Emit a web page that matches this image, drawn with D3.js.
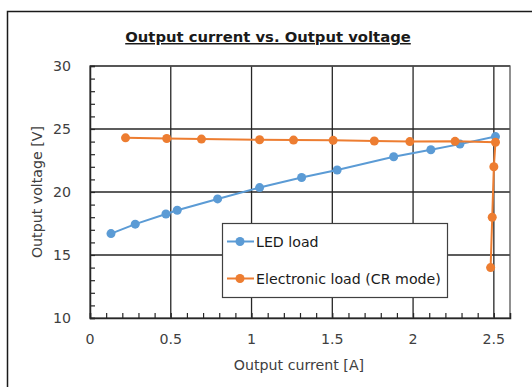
<!DOCTYPE html>
<html>
<head>
<meta charset="utf-8">
<script src="https://cdn.jsdelivr.net/npm/d3@7/dist/d3.min.js"></script>
<style>
  html, body { margin: 0; padding: 0; background: #fff; }
  svg { display: block; font-family: "DejaVu Sans", Verdana, sans-serif; }
</style>
</head>
<body>
<svg id="chart" width="532" height="387"></svg>
<script>
// LED load: output current [A] and output voltage [V]
const ledCurrent = [0.13, 0.28, 0.47, 0.54, 0.79, 1.05, 1.31, 1.53, 1.88, 2.11, 2.29, 2.51];
const ledVoltage = [16.7, 17.45, 18.25, 18.55, 19.45, 20.35, 21.15, 21.75, 22.8, 23.35, 23.8, 24.4];

// Electronic load in constant-resistance mode
const eloadCurrent = [0.22, 0.475, 0.69, 1.05, 1.26, 1.505, 1.76, 1.98, 2.26, 2.51, 2.50, 2.49, 2.48];
const eloadVoltage = [24.3, 24.25, 24.2, 24.15, 24.12, 24.1, 24.05, 24.0, 24.02, 23.95, 22.0, 18.0, 14.0];

const seriesNames = ["LED load", "Electronic load (CR mode)"];
const seriesColors = ["#5B9BD5", "#ED7D31"];

const xTicks = [0, 0.5, 1, 1.5, 2, 2.5];
const yTicks = [10, 15, 20, 25, 30];
const xMinorTicks = d3.range(0, 26).map(i => i / 10);
const yMinorTicks = d3.range(10, 31);

const titleText = "Output current vs. Output voltage";
const xTitle = "Output current [A]";
const yTitle = "Output voltage [V]";

const svg = d3.select("#chart");
const ink = "#404040";
const gridInk = "#262626";
const fs = 14.2;

// outer chart frame
svg.append("rect")
  .attr("x", 7.5).attr("y", 11.5)
  .attr("width", 540).attr("height", 400)
  .attr("fill", "#fff").attr("stroke", "#1a1a1a").attr("stroke-width", 1.5);

const plot = { left: 90, top: 66, right: 510, bottom: 318 };

const x = d3.scaleLinear().domain([0, 2.6]).range([plot.left, plot.right]);
const y = d3.scaleLinear().domain([10, 30]).range([plot.bottom, plot.top]);

// title
svg.append("text")
  .attr("x", 268).attr("y", 42)
  .attr("text-anchor", "middle")
  .attr("font-size", 14.8).attr("font-weight", "bold")
  .attr("fill", "#1a1a1a")
  .attr("text-decoration", "underline")
  .text(titleText);

// grid lines
const g = svg.append("g");
g.selectAll(".vgrid").data(xTicks.filter(d => d > 0)).join("line")
  .attr("x1", d => x(d)).attr("x2", d => x(d))
  .attr("y1", plot.top).attr("y2", plot.bottom)
  .attr("stroke", gridInk).attr("stroke-width", 1.3);
g.selectAll(".hgrid").data(yTicks.filter(d => d > 10)).join("line")
  .attr("x1", plot.left).attr("x2", plot.right)
  .attr("y1", d => y(d)).attr("y2", d => y(d))
  .attr("stroke", gridInk).attr("stroke-width", 1.3);

// plot area frame
g.append("rect")
  .attr("x", plot.left).attr("y", plot.top)
  .attr("width", plot.right - plot.left).attr("height", plot.bottom - plot.top)
  .attr("fill", "none").attr("stroke", "#555").attr("stroke-width", 1.3);

// axes with inward minor ticks
const xAxis = d3.axisBottom(x).tickValues(xMinorTicks).tickSize(-5).tickFormat("");
const yAxis = d3.axisLeft(y).tickValues(yMinorTicks).tickSize(-5).tickFormat("");
svg.append("g").attr("transform", `translate(0,${plot.bottom})`).call(xAxis)
  .call(a => a.select(".domain").attr("stroke", gridInk).attr("stroke-width", 1.5))
  .call(a => a.selectAll(".tick line").attr("stroke", gridInk).attr("stroke-width", 1.2));
svg.append("g").attr("transform", `translate(${plot.left},0)`).call(yAxis)
  .call(a => a.select(".domain").attr("stroke", gridInk).attr("stroke-width", 1.5))
  .call(a => a.selectAll(".tick line").attr("stroke", gridInk).attr("stroke-width", 1.2));

// tick labels
svg.append("g").selectAll("text").data(xTicks).join("text")
  .attr("x", d => x(d)).attr("y", 344)
  .attr("text-anchor", "middle").attr("font-size", fs).attr("fill", ink)
  .text(d => d);
svg.append("g").selectAll("text").data(yTicks).join("text")
  .attr("x", 71).attr("y", d => y(d) + 5)
  .attr("text-anchor", "end").attr("font-size", fs).attr("fill", ink)
  .text(d => d);

// axis titles
svg.append("text").attr("x", 299).attr("y", 370)
  .attr("text-anchor", "middle").attr("font-size", fs).attr("fill", ink)
  .text(xTitle);
svg.append("text")
  .attr("transform", `translate(42,192) rotate(-90)`)
  .attr("text-anchor", "middle").attr("font-size", fs).attr("fill", ink)
  .text(yTitle);

// series
const series = [
  ledCurrent.map((c, i) => [c, ledVoltage[i]]),
  eloadCurrent.map((c, i) => [c, eloadVoltage[i]])
];
const line = d3.line().x(d => x(d[0])).y(d => y(d[1]));
series.forEach((pts, k) => {
  const s = svg.append("g");
  s.append("path").datum(pts)
    .attr("d", line).attr("fill", "none")
    .attr("stroke", seriesColors[k]).attr("stroke-width", 2);
  s.selectAll("circle").data(pts).join("circle")
    .attr("cx", d => x(d[0])).attr("cy", d => y(d[1]))
    .attr("r", 4.5).attr("fill", seriesColors[k]);
});

// legend
const lg = svg.append("g");
lg.append("rect")
  .attr("x", 222.5).attr("y", 223.5).attr("width", 225).attr("height", 74)
  .attr("fill", "#fff").attr("stroke", "#404040").attr("stroke-width", 1.2);
seriesNames.forEach((name, k) => {
  const cy = 241.5 + k * 37;
  lg.append("line").attr("x1", 227).attr("x2", 254).attr("y1", cy).attr("y2", cy)
    .attr("stroke", seriesColors[k]).attr("stroke-width", 2);
  lg.append("circle").attr("cx", 240).attr("cy", cy).attr("r", 4.5).attr("fill", seriesColors[k]);
  lg.append("text").attr("x", 256).attr("y", cy + 5)
    .attr("font-size", fs).attr("fill", "#1a1a1a").text(name);
});
</script>
</body>
</html>
